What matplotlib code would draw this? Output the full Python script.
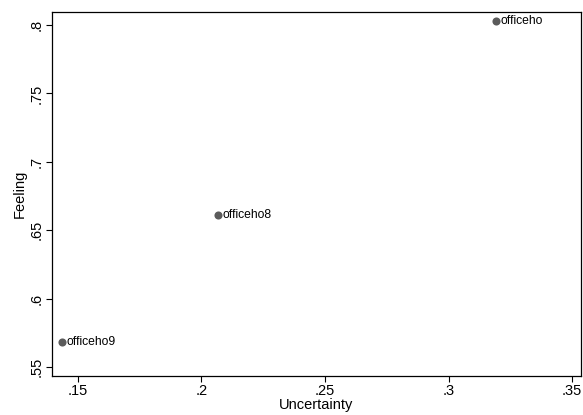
import matplotlib
matplotlib.use("Agg")
import matplotlib.pyplot as plt

labels = ["officeho", "officeho8", "officeho9"]
uncertainty = [0.3192, 0.2068, 0.1436]
feeling = [0.803, 0.661, 0.568]

plt.rcParams['font.family'] = ['Liberation Sans', 'DejaVu Sans']

fig = plt.figure(figsize=(5.83, 4.15), dpi=100)
ax = fig.add_axes([0.0892, 0.094, 0.9074, 0.877])

ax.scatter(uncertainty, feeling, s=34, color='#5b5b5b', linewidths=0, zorder=3)
for x, y, lab in zip(uncertainty, feeling, labels):
    ax.annotate(lab, (x, y), xytext=(3.5, 0), textcoords='offset points',
                va='center', ha='left', fontsize=8.7, color='black')

ax.set_xlim(0.1396, 0.3536)
ax.set_ylim(0.5434, 0.8095)
ax.set_xticks([0.15, 0.2, 0.25, 0.3, 0.35])
ax.set_xticklabels([".15", ".2", ".25", ".3", ".35"])
ax.set_yticks([0.55, 0.6, 0.65, 0.7, 0.75, 0.8])
ax.set_yticklabels([".55", ".6", ".65", ".7", ".75", ".8"], rotation=90, va='center')
ax.tick_params(direction='out', length=4, width=0.8, labelsize=10.5, pad=2)
ax.set_xlabel("Uncertainty", fontsize=10.5, labelpad=0)
ax.set_ylabel("Feeling", fontsize=10.5, labelpad=2)
for s in ax.spines.values():
    s.set_linewidth(0.9)

fig.savefig("out.png", dpi=100)
